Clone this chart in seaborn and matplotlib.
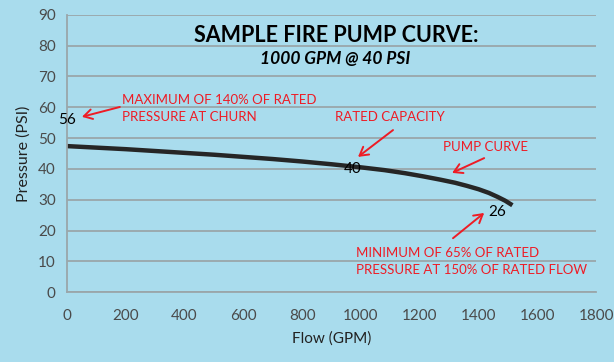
import numpy as np
import pandas as pd
import seaborn as sns
import matplotlib.pyplot as plt

# pump curve
flow = [0, 100, 200, 300, 400, 500, 600, 700, 800, 900, 1000, 1080, 1150,
        1210, 1270, 1320, 1360, 1400, 1435, 1465, 1490, 1515]
pressure = [47.4, 46.9, 46.4, 45.8, 45.2, 44.6, 43.9, 43.2, 42.4, 41.5, 40.5,
            39.6, 38.6, 37.6, 36.5, 35.5, 34.5, 33.4, 32.2, 30.9, 29.7, 28.2]

# labelled points
label_flow = [0, 973, 1463]
label_psi = [55.9, 40, 26]
label_text = ['56', '40', '26']

bg = '#a9dced'
red = '#ee1c25'
grid = '#9aa6aa'

df = pd.DataFrame({'Flow (GPM)': flow, 'Pressure (PSI)': pressure})

sns.set_style('white', {'axes.facecolor': bg, 'figure.facecolor': bg})
plt.rcParams['font.family'] = ['Lato', 'DejaVu Sans']

fig = plt.figure(figsize=(6.14, 3.62), dpi=100)
ax = fig.add_axes([0.109, 0.193, 0.862, 0.766])

sns.lineplot(data=df, x='Flow (GPM)', y='Pressure (PSI)', ax=ax,
             color='#262626', lw=3.2, solid_capstyle='butt')

ax.set_xlim(0, 1800)
ax.set_ylim(0, 90)
ax.set_xticks(range(0, 1801, 200))
ax.set_yticks(range(0, 91, 10))
ax.yaxis.grid(True, color=grid, lw=1.3)
ax.set_axisbelow(True)
for s in ['top', 'right']:
    ax.spines[s].set_visible(False)
for s in ['left', 'bottom']:
    ax.spines[s].set_color(grid)
    ax.spines[s].set_linewidth(1.3)
ax.tick_params(axis='x', length=4, color=grid, labelsize=11, labelcolor='#4a4a4a', pad=8)
ax.tick_params(axis='y', length=4, color=grid, labelsize=11, labelcolor='#4a4a4a', pad=4)
ax.set_xlabel('Flow (GPM)', fontsize=11, color='#222222', labelpad=6)
ax.set_ylabel('Pressure (PSI)', fontsize=11.5, color='#222222', labelpad=5)

for fx, py, t in zip(label_flow, label_psi, label_text):
    ax.text(fx, py, t, fontsize=11, color='black', ha='center', va='center')

ax.text(915, 83.3, 'SAMPLE FIRE PUMP CURVE:', fontsize=15.5, fontweight='bold',
        ha='center', va='center', color='black')
ax.text(912, 75.7, '1000 GPM @ 40 PSI', fontsize=12.5, fontweight='bold',
        style='italic', ha='center', va='center', color='black')

# red notes
note_kw = dict(fontsize=9.5, color=red, va='center', linespacing=1.45)
ax.text(187, 59.6, 'MAXIMUM OF 140% OF RATED\nPRESSURE AT CHURN', ha='left', **note_kw)
ax.text(1099, 56.9, 'RATED CAPACITY', ha='center', **note_kw)
ax.text(1422, 47.1, 'PUMP CURVE', ha='center', **note_kw)
ax.text(983, 10.0, 'MINIMUM OF 65% OF RATED\nPRESSURE AT 150% OF RATED FLOW', ha='left', **note_kw)

arrows = [((180, 60.1), (51, 56.9)),
          ((1109, 52.6), (990, 43.9)),
          ((1419, 43.5), (1310, 38.7)),
          ((1313, 17.5), (1419, 25.7))]
for tail, head in arrows:
    ax.annotate('', xy=head, xytext=tail,
                arrowprops=dict(arrowstyle='->,head_length=0.6,head_width=0.35',
                                color=red, lw=1.4, shrinkA=0, shrinkB=0))

fig.savefig('out.png', dpi=100, facecolor=bg)
